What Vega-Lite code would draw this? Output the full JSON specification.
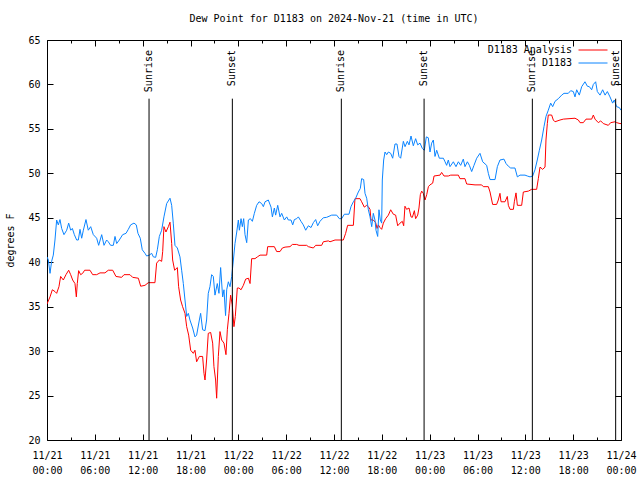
{
  "$schema": "https://vega.github.io/schema/vega-lite/v6.json",
  "width": 574,
  "height": 400,
  "autosize": {"type": "none"},
  "padding": {"left": 47, "top": 40, "right": 19, "bottom": 40},
  "background": "white",
  "title": {"text": "Dew Point for D1183 on 2024-Nov-21 (time in UTC)", "font": "DejaVu Sans Mono", "fontSize": 10, "fontWeight": "normal", "color": "black", "anchor": "middle", "offset": 11},
  "config": {"view": {"stroke": null}, "axis": {"labelFont": "DejaVu Sans Mono", "labelFontSize": 10, "labelColor": "black", "titleFont": "DejaVu Sans Mono", "titleFontSize": 10, "titleFontWeight": "normal", "titleColor": "black", "tickColor": "black", "domainColor": "black", "grid": false}},
  "datasets": {
    "obs": [
      {"series": "D1183 Analysis", "hour": 0, "dewpoint": 35.3},
      {"series": "D1183 Analysis", "hour": 0.38, "dewpoint": 36.1},
      {"series": "D1183 Analysis", "hour": 0.67, "dewpoint": 36.9},
      {"series": "D1183 Analysis", "hour": 1.0, "dewpoint": 36.7},
      {"series": "D1183 Analysis", "hour": 1.21, "dewpoint": 36.5},
      {"series": "D1183 Analysis", "hour": 1.5, "dewpoint": 37.25},
      {"series": "D1183 Analysis", "hour": 1.71, "dewpoint": 38.4},
      {"series": "D1183 Analysis", "hour": 2.05, "dewpoint": 38.0},
      {"series": "D1183 Analysis", "hour": 2.38, "dewpoint": 38.6},
      {"series": "D1183 Analysis", "hour": 2.72, "dewpoint": 39.1},
      {"series": "D1183 Analysis", "hour": 2.97, "dewpoint": 38.6},
      {"series": "D1183 Analysis", "hour": 3.22, "dewpoint": 38.0},
      {"series": "D1183 Analysis", "hour": 3.51, "dewpoint": 37.6},
      {"series": "D1183 Analysis", "hour": 3.68, "dewpoint": 36.1},
      {"series": "D1183 Analysis", "hour": 3.8, "dewpoint": 37.6},
      {"series": "D1183 Analysis", "hour": 3.97, "dewpoint": 39.05},
      {"series": "D1183 Analysis", "hour": 4.22, "dewpoint": 38.6},
      {"series": "D1183 Analysis", "hour": 4.47, "dewpoint": 38.75},
      {"series": "D1183 Analysis", "hour": 4.72, "dewpoint": 39.1},
      {"series": "D1183 Analysis", "hour": 5.39, "dewpoint": 39.1},
      {"series": "D1183 Analysis", "hour": 5.73, "dewpoint": 38.6},
      {"series": "D1183 Analysis", "hour": 6.23, "dewpoint": 38.6},
      {"series": "D1183 Analysis", "hour": 6.65, "dewpoint": 38.8},
      {"series": "D1183 Analysis", "hour": 7.27, "dewpoint": 38.8},
      {"series": "D1183 Analysis", "hour": 7.69, "dewpoint": 39.1},
      {"series": "D1183 Analysis", "hour": 8.24, "dewpoint": 39.1},
      {"series": "D1183 Analysis", "hour": 8.65, "dewpoint": 38.4},
      {"series": "D1183 Analysis", "hour": 9.36, "dewpoint": 38.3},
      {"series": "D1183 Analysis", "hour": 9.66, "dewpoint": 38.6},
      {"series": "D1183 Analysis", "hour": 10.41, "dewpoint": 38.6},
      {"series": "D1183 Analysis", "hour": 10.74, "dewpoint": 38.3},
      {"series": "D1183 Analysis", "hour": 11.46, "dewpoint": 38.2},
      {"series": "D1183 Analysis", "hour": 11.75, "dewpoint": 37.3},
      {"series": "D1183 Analysis", "hour": 12.29, "dewpoint": 37.4},
      {"series": "D1183 Analysis", "hour": 12.71, "dewpoint": 37.7},
      {"series": "D1183 Analysis", "hour": 13.54, "dewpoint": 37.7},
      {"series": "D1183 Analysis", "hour": 13.75, "dewpoint": 39.9},
      {"series": "D1183 Analysis", "hour": 14.09, "dewpoint": 40.25},
      {"series": "D1183 Analysis", "hour": 14.38, "dewpoint": 40.1},
      {"series": "D1183 Analysis", "hour": 14.51, "dewpoint": 41.2},
      {"series": "D1183 Analysis", "hour": 14.67, "dewpoint": 44.0},
      {"series": "D1183 Analysis", "hour": 14.92, "dewpoint": 43.4},
      {"series": "D1183 Analysis", "hour": 15.22, "dewpoint": 44.0},
      {"series": "D1183 Analysis", "hour": 15.43, "dewpoint": 44.5},
      {"series": "D1183 Analysis", "hour": 15.64, "dewpoint": 42.1},
      {"series": "D1183 Analysis", "hour": 15.76, "dewpoint": 40.25},
      {"series": "D1183 Analysis", "hour": 16.01, "dewpoint": 39.1},
      {"series": "D1183 Analysis", "hour": 16.35, "dewpoint": 39.4},
      {"series": "D1183 Analysis", "hour": 16.51, "dewpoint": 37.25},
      {"series": "D1183 Analysis", "hour": 16.76, "dewpoint": 35.75},
      {"series": "D1183 Analysis", "hour": 17.01, "dewpoint": 35.0},
      {"series": "D1183 Analysis", "hour": 17.31, "dewpoint": 34.25},
      {"series": "D1183 Analysis", "hour": 17.52, "dewpoint": 32.75},
      {"series": "D1183 Analysis", "hour": 17.77, "dewpoint": 31.8},
      {"series": "D1183 Analysis", "hour": 18.02, "dewpoint": 30.1},
      {"series": "D1183 Analysis", "hour": 18.35, "dewpoint": 29.75},
      {"series": "D1183 Analysis", "hour": 18.56, "dewpoint": 30.1},
      {"series": "D1183 Analysis", "hour": 18.77, "dewpoint": 28.8},
      {"series": "D1183 Analysis", "hour": 19.11, "dewpoint": 29.4},
      {"series": "D1183 Analysis", "hour": 19.52, "dewpoint": 29.4},
      {"series": "D1183 Analysis", "hour": 19.69, "dewpoint": 27.5},
      {"series": "D1183 Analysis", "hour": 19.82, "dewpoint": 26.75},
      {"series": "D1183 Analysis", "hour": 20.02, "dewpoint": 29.0},
      {"series": "D1183 Analysis", "hour": 20.23, "dewpoint": 32.0},
      {"series": "D1183 Analysis", "hour": 20.53, "dewpoint": 32.1},
      {"series": "D1183 Analysis", "hour": 20.78, "dewpoint": 30.9},
      {"series": "D1183 Analysis", "hour": 20.94, "dewpoint": 28.25},
      {"series": "D1183 Analysis", "hour": 21.15, "dewpoint": 26.75},
      {"series": "D1183 Analysis", "hour": 21.28, "dewpoint": 24.7},
      {"series": "D1183 Analysis", "hour": 21.49, "dewpoint": 29.4},
      {"series": "D1183 Analysis", "hour": 21.7, "dewpoint": 32.2},
      {"series": "D1183 Analysis", "hour": 21.91, "dewpoint": 31.25},
      {"series": "D1183 Analysis", "hour": 22.2, "dewpoint": 30.9},
      {"series": "D1183 Analysis", "hour": 22.45, "dewpoint": 29.6},
      {"series": "D1183 Analysis", "hour": 22.62, "dewpoint": 32.4},
      {"series": "D1183 Analysis", "hour": 22.83, "dewpoint": 34.25},
      {"series": "D1183 Analysis", "hour": 23.03, "dewpoint": 36.3},
      {"series": "D1183 Analysis", "hour": 23.24, "dewpoint": 35.2},
      {"series": "D1183 Analysis", "hour": 23.45, "dewpoint": 32.75},
      {"series": "D1183 Analysis", "hour": 23.62, "dewpoint": 33.9},
      {"series": "D1183 Analysis", "hour": 23.87, "dewpoint": 37.1},
      {"series": "D1183 Analysis", "hour": 24.08, "dewpoint": 37.1},
      {"series": "D1183 Analysis", "hour": 24.34, "dewpoint": 36.9},
      {"series": "D1183 Analysis", "hour": 24.63, "dewpoint": 37.4},
      {"series": "D1183 Analysis", "hour": 24.92, "dewpoint": 38.1},
      {"series": "D1183 Analysis", "hour": 25.26, "dewpoint": 38.2},
      {"series": "D1183 Analysis", "hour": 25.47, "dewpoint": 37.6},
      {"series": "D1183 Analysis", "hour": 25.67, "dewpoint": 40.4},
      {"series": "D1183 Analysis", "hour": 26.09, "dewpoint": 40.4},
      {"series": "D1183 Analysis", "hour": 26.39, "dewpoint": 40.6},
      {"series": "D1183 Analysis", "hour": 26.72, "dewpoint": 40.8},
      {"series": "D1183 Analysis", "hour": 27.56, "dewpoint": 40.8},
      {"series": "D1183 Analysis", "hour": 27.68, "dewpoint": 41.75},
      {"series": "D1183 Analysis", "hour": 28.52, "dewpoint": 41.75},
      {"series": "D1183 Analysis", "hour": 28.81, "dewpoint": 41.2},
      {"series": "D1183 Analysis", "hour": 29.23, "dewpoint": 41.2},
      {"series": "D1183 Analysis", "hour": 29.52, "dewpoint": 41.6},
      {"series": "D1183 Analysis", "hour": 29.86, "dewpoint": 41.7},
      {"series": "D1183 Analysis", "hour": 30.48, "dewpoint": 41.75},
      {"series": "D1183 Analysis", "hour": 30.78, "dewpoint": 42.0},
      {"series": "D1183 Analysis", "hour": 31.32, "dewpoint": 42.0},
      {"series": "D1183 Analysis", "hour": 31.61, "dewpoint": 41.9},
      {"series": "D1183 Analysis", "hour": 32.57, "dewpoint": 41.9},
      {"series": "D1183 Analysis", "hour": 32.78, "dewpoint": 41.75},
      {"series": "D1183 Analysis", "hour": 33.41, "dewpoint": 41.6},
      {"series": "D1183 Analysis", "hour": 33.7, "dewpoint": 41.9},
      {"series": "D1183 Analysis", "hour": 34.45, "dewpoint": 41.9},
      {"series": "D1183 Analysis", "hour": 34.66, "dewpoint": 42.3},
      {"series": "D1183 Analysis", "hour": 35.29, "dewpoint": 42.4},
      {"series": "D1183 Analysis", "hour": 35.5, "dewpoint": 42.3},
      {"series": "D1183 Analysis", "hour": 36.13, "dewpoint": 42.5},
      {"series": "D1183 Analysis", "hour": 37.17, "dewpoint": 42.5},
      {"series": "D1183 Analysis", "hour": 37.46, "dewpoint": 43.25},
      {"series": "D1183 Analysis", "hour": 37.71, "dewpoint": 44.15},
      {"series": "D1183 Analysis", "hour": 38.43, "dewpoint": 44.15},
      {"series": "D1183 Analysis", "hour": 38.63, "dewpoint": 47.15},
      {"series": "D1183 Analysis", "hour": 39.26, "dewpoint": 47.15},
      {"series": "D1183 Analysis", "hour": 39.47, "dewpoint": 46.8},
      {"series": "D1183 Analysis", "hour": 39.8, "dewpoint": 46.2},
      {"series": "D1183 Analysis", "hour": 40.1, "dewpoint": 46.4},
      {"series": "D1183 Analysis", "hour": 40.3, "dewpoint": 46.25},
      {"series": "D1183 Analysis", "hour": 40.52, "dewpoint": 45.95},
      {"series": "D1183 Analysis", "hour": 40.64, "dewpoint": 44.75},
      {"series": "D1183 Analysis", "hour": 40.93, "dewpoint": 44.75},
      {"series": "D1183 Analysis", "hour": 41.23, "dewpoint": 44.45},
      {"series": "D1183 Analysis", "hour": 41.4, "dewpoint": 43.8},
      {"series": "D1183 Analysis", "hour": 41.56, "dewpoint": 44.2},
      {"series": "D1183 Analysis", "hour": 41.77, "dewpoint": 43.9},
      {"series": "D1183 Analysis", "hour": 41.98, "dewpoint": 43.7},
      {"series": "D1183 Analysis", "hour": 42.19, "dewpoint": 44.4},
      {"series": "D1183 Analysis", "hour": 42.48, "dewpoint": 44.9},
      {"series": "D1183 Analysis", "hour": 42.82, "dewpoint": 45.3},
      {"series": "D1183 Analysis", "hour": 43.11, "dewpoint": 45.9},
      {"series": "D1183 Analysis", "hour": 43.44, "dewpoint": 45.4},
      {"series": "D1183 Analysis", "hour": 43.73, "dewpoint": 45.3},
      {"series": "D1183 Analysis", "hour": 43.99, "dewpoint": 44.1},
      {"series": "D1183 Analysis", "hour": 44.28, "dewpoint": 44.4},
      {"series": "D1183 Analysis", "hour": 44.57, "dewpoint": 44.6},
      {"series": "D1183 Analysis", "hour": 44.74, "dewpoint": 44.1},
      {"series": "D1183 Analysis", "hour": 44.9, "dewpoint": 46.3},
      {"series": "D1183 Analysis", "hour": 45.11, "dewpoint": 45.95},
      {"series": "D1183 Analysis", "hour": 45.41, "dewpoint": 46.1},
      {"series": "D1183 Analysis", "hour": 45.66, "dewpoint": 45.1},
      {"series": "D1183 Analysis", "hour": 45.83, "dewpoint": 45.05},
      {"series": "D1183 Analysis", "hour": 46.08, "dewpoint": 45.8},
      {"series": "D1183 Analysis", "hour": 46.24, "dewpoint": 44.9},
      {"series": "D1183 Analysis", "hour": 46.5, "dewpoint": 45.3},
      {"series": "D1183 Analysis", "hour": 46.66, "dewpoint": 46.1},
      {"series": "D1183 Analysis", "hour": 46.83, "dewpoint": 47.6},
      {"series": "D1183 Analysis", "hour": 47.0, "dewpoint": 48.0},
      {"series": "D1183 Analysis", "hour": 47.2, "dewpoint": 47.75},
      {"series": "D1183 Analysis", "hour": 47.42, "dewpoint": 47.0},
      {"series": "D1183 Analysis", "hour": 47.63, "dewpoint": 47.6},
      {"series": "D1183 Analysis", "hour": 47.84, "dewpoint": 48.5},
      {"series": "D1183 Analysis", "hour": 48.04, "dewpoint": 48.7},
      {"series": "D1183 Analysis", "hour": 48.38, "dewpoint": 48.9},
      {"series": "D1183 Analysis", "hour": 48.55, "dewpoint": 49.7},
      {"series": "D1183 Analysis", "hour": 49.3, "dewpoint": 49.8},
      {"series": "D1183 Analysis", "hour": 49.5, "dewpoint": 50.1},
      {"series": "D1183 Analysis", "hour": 49.8, "dewpoint": 49.7},
      {"series": "D1183 Analysis", "hour": 50.34, "dewpoint": 49.7},
      {"series": "D1183 Analysis", "hour": 50.64, "dewpoint": 49.8},
      {"series": "D1183 Analysis", "hour": 51.6, "dewpoint": 49.8},
      {"series": "D1183 Analysis", "hour": 51.8, "dewpoint": 49.4},
      {"series": "D1183 Analysis", "hour": 52.43, "dewpoint": 49.4},
      {"series": "D1183 Analysis", "hour": 52.64, "dewpoint": 48.8},
      {"series": "D1183 Analysis", "hour": 53.69, "dewpoint": 48.7},
      {"series": "D1183 Analysis", "hour": 54.52, "dewpoint": 48.7},
      {"series": "D1183 Analysis", "hour": 54.73, "dewpoint": 48.5},
      {"series": "D1183 Analysis", "hour": 55.36, "dewpoint": 48.5},
      {"series": "D1183 Analysis", "hour": 55.57, "dewpoint": 47.9},
      {"series": "D1183 Analysis", "hour": 55.78, "dewpoint": 47.0},
      {"series": "D1183 Analysis", "hour": 55.9, "dewpoint": 46.5},
      {"series": "D1183 Analysis", "hour": 56.4, "dewpoint": 46.5},
      {"series": "D1183 Analysis", "hour": 56.61, "dewpoint": 47.0},
      {"series": "D1183 Analysis", "hour": 56.82, "dewpoint": 47.75},
      {"series": "D1183 Analysis", "hour": 56.95, "dewpoint": 46.8},
      {"series": "D1183 Analysis", "hour": 57.45, "dewpoint": 46.8},
      {"series": "D1183 Analysis", "hour": 57.74, "dewpoint": 47.4},
      {"series": "D1183 Analysis", "hour": 57.87, "dewpoint": 46.4},
      {"series": "D1183 Analysis", "hour": 58.08, "dewpoint": 45.95},
      {"series": "D1183 Analysis", "hour": 58.5, "dewpoint": 45.95},
      {"series": "D1183 Analysis", "hour": 58.62, "dewpoint": 46.8},
      {"series": "D1183 Analysis", "hour": 58.83, "dewpoint": 47.8},
      {"series": "D1183 Analysis", "hour": 59.0, "dewpoint": 46.4},
      {"series": "D1183 Analysis", "hour": 59.54, "dewpoint": 46.4},
      {"series": "D1183 Analysis", "hour": 59.75, "dewpoint": 47.9},
      {"series": "D1183 Analysis", "hour": 60.38, "dewpoint": 48.0},
      {"series": "D1183 Analysis", "hour": 60.79, "dewpoint": 48.2},
      {"series": "D1183 Analysis", "hour": 61.42, "dewpoint": 48.2},
      {"series": "D1183 Analysis", "hour": 61.63, "dewpoint": 49.4},
      {"series": "D1183 Analysis", "hour": 61.84, "dewpoint": 50.7},
      {"series": "D1183 Analysis", "hour": 62.17, "dewpoint": 50.45},
      {"series": "D1183 Analysis", "hour": 62.47, "dewpoint": 50.7},
      {"series": "D1183 Analysis", "hour": 62.59, "dewpoint": 53.75},
      {"series": "D1183 Analysis", "hour": 62.76, "dewpoint": 55.6},
      {"series": "D1183 Analysis", "hour": 62.88, "dewpoint": 56.56},
      {"series": "D1183 Analysis", "hour": 63.3, "dewpoint": 56.56},
      {"series": "D1183 Analysis", "hour": 63.51, "dewpoint": 56.0},
      {"series": "D1183 Analysis", "hour": 63.72, "dewpoint": 55.8},
      {"series": "D1183 Analysis", "hour": 64.35, "dewpoint": 56.0},
      {"series": "D1183 Analysis", "hour": 64.77, "dewpoint": 56.1},
      {"series": "D1183 Analysis", "hour": 66.23, "dewpoint": 56.2},
      {"series": "D1183 Analysis", "hour": 66.65, "dewpoint": 56.0},
      {"series": "D1183 Analysis", "hour": 66.86, "dewpoint": 55.7},
      {"series": "D1183 Analysis", "hour": 67.27, "dewpoint": 55.7},
      {"series": "D1183 Analysis", "hour": 67.61, "dewpoint": 56.1},
      {"series": "D1183 Analysis", "hour": 68.32, "dewpoint": 56.1},
      {"series": "D1183 Analysis", "hour": 68.53, "dewpoint": 56.56},
      {"series": "D1183 Analysis", "hour": 68.74, "dewpoint": 56.1},
      {"series": "D1183 Analysis", "hour": 69.16, "dewpoint": 55.7},
      {"series": "D1183 Analysis", "hour": 69.45, "dewpoint": 55.9},
      {"series": "D1183 Analysis", "hour": 69.78, "dewpoint": 55.6},
      {"series": "D1183 Analysis", "hour": 70.41, "dewpoint": 55.4},
      {"series": "D1183 Analysis", "hour": 70.7, "dewpoint": 55.7},
      {"series": "D1183 Analysis", "hour": 71.25, "dewpoint": 55.8},
      {"series": "D1183 Analysis", "hour": 71.46, "dewpoint": 55.7},
      {"series": "D1183 Analysis", "hour": 71.87, "dewpoint": 55.6},
      {"series": "D1183 Analysis", "hour": 72.0, "dewpoint": 55.6},
      {"series": "D1183", "hour": 0.0, "dewpoint": 40.6},
      {"series": "D1183", "hour": 0.17, "dewpoint": 40.25},
      {"series": "D1183", "hour": 0.38, "dewpoint": 38.75},
      {"series": "D1183", "hour": 0.58, "dewpoint": 40.1},
      {"series": "D1183", "hour": 0.79, "dewpoint": 40.8},
      {"series": "D1183", "hour": 1.0, "dewpoint": 42.5},
      {"series": "D1183", "hour": 1.21, "dewpoint": 44.75},
      {"series": "D1183", "hour": 1.42, "dewpoint": 44.2},
      {"series": "D1183", "hour": 1.63, "dewpoint": 44.8},
      {"series": "D1183", "hour": 1.84, "dewpoint": 43.8},
      {"series": "D1183", "hour": 2.13, "dewpoint": 43.1},
      {"series": "D1183", "hour": 2.47, "dewpoint": 43.6},
      {"series": "D1183", "hour": 2.72, "dewpoint": 44.4},
      {"series": "D1183", "hour": 2.97, "dewpoint": 43.6},
      {"series": "D1183", "hour": 3.18, "dewpoint": 43.8},
      {"series": "D1183", "hour": 3.43, "dewpoint": 43.1},
      {"series": "D1183", "hour": 3.72, "dewpoint": 42.5},
      {"series": "D1183", "hour": 3.93, "dewpoint": 42.5},
      {"series": "D1183", "hour": 4.14, "dewpoint": 43.7},
      {"series": "D1183", "hour": 4.35, "dewpoint": 42.7},
      {"series": "D1183", "hour": 4.56, "dewpoint": 43.6},
      {"series": "D1183", "hour": 4.89, "dewpoint": 44.8},
      {"series": "D1183", "hour": 5.18, "dewpoint": 43.6},
      {"series": "D1183", "hour": 5.48, "dewpoint": 44.0},
      {"series": "D1183", "hour": 5.81, "dewpoint": 43.1},
      {"series": "D1183", "hour": 6.23, "dewpoint": 42.7},
      {"series": "D1183", "hour": 6.48, "dewpoint": 41.9},
      {"series": "D1183", "hour": 6.86, "dewpoint": 43.1},
      {"series": "D1183", "hour": 7.15, "dewpoint": 41.9},
      {"series": "D1183", "hour": 7.48, "dewpoint": 42.5},
      {"series": "D1183", "hour": 7.69, "dewpoint": 42.3},
      {"series": "D1183", "hour": 7.98, "dewpoint": 41.9},
      {"series": "D1183", "hour": 8.32, "dewpoint": 41.9},
      {"series": "D1183", "hour": 8.53, "dewpoint": 42.9},
      {"series": "D1183", "hour": 8.74, "dewpoint": 42.1},
      {"series": "D1183", "hour": 9.07, "dewpoint": 42.5},
      {"series": "D1183", "hour": 9.49, "dewpoint": 43.1},
      {"series": "D1183", "hour": 9.91, "dewpoint": 43.25},
      {"series": "D1183", "hour": 10.2, "dewpoint": 43.7},
      {"series": "D1183", "hour": 10.49, "dewpoint": 44.2},
      {"series": "D1183", "hour": 10.91, "dewpoint": 44.4},
      {"series": "D1183", "hour": 11.2, "dewpoint": 44.2},
      {"series": "D1183", "hour": 11.41, "dewpoint": 43.25},
      {"series": "D1183", "hour": 11.7, "dewpoint": 42.7},
      {"series": "D1183", "hour": 11.95, "dewpoint": 41.4},
      {"series": "D1183", "hour": 12.29, "dewpoint": 41.0},
      {"series": "D1183", "hour": 12.5, "dewpoint": 40.7},
      {"series": "D1183", "hour": 12.83, "dewpoint": 40.8},
      {"series": "D1183", "hour": 13.13, "dewpoint": 41.0},
      {"series": "D1183", "hour": 13.34, "dewpoint": 40.6},
      {"series": "D1183", "hour": 13.63, "dewpoint": 40.55},
      {"series": "D1183", "hour": 13.84, "dewpoint": 41.4},
      {"series": "D1183", "hour": 14.09, "dewpoint": 42.9},
      {"series": "D1183", "hour": 14.38, "dewpoint": 43.6},
      {"series": "D1183", "hour": 14.67, "dewpoint": 45.1},
      {"series": "D1183", "hour": 15.01, "dewpoint": 46.6},
      {"series": "D1183", "hour": 15.43, "dewpoint": 47.2},
      {"series": "D1183", "hour": 15.64, "dewpoint": 46.4},
      {"series": "D1183", "hour": 15.84, "dewpoint": 44.4},
      {"series": "D1183", "hour": 16.05, "dewpoint": 41.9},
      {"series": "D1183", "hour": 16.35, "dewpoint": 41.6},
      {"series": "D1183", "hour": 16.68, "dewpoint": 40.6},
      {"series": "D1183", "hour": 16.89, "dewpoint": 39.1},
      {"series": "D1183", "hour": 17.1, "dewpoint": 37.6},
      {"series": "D1183", "hour": 17.31, "dewpoint": 35.75},
      {"series": "D1183", "hour": 17.52, "dewpoint": 33.9},
      {"series": "D1183", "hour": 17.73, "dewpoint": 34.25},
      {"series": "D1183", "hour": 17.93, "dewpoint": 33.5},
      {"series": "D1183", "hour": 18.27, "dewpoint": 32.6},
      {"series": "D1183", "hour": 18.56, "dewpoint": 31.6},
      {"series": "D1183", "hour": 18.77, "dewpoint": 31.8},
      {"series": "D1183", "hour": 19.11, "dewpoint": 33.5},
      {"series": "D1183", "hour": 19.27, "dewpoint": 34.25},
      {"series": "D1183", "hour": 19.52, "dewpoint": 32.4},
      {"series": "D1183", "hour": 19.82, "dewpoint": 32.3},
      {"series": "D1183", "hour": 20.02, "dewpoint": 33.5},
      {"series": "D1183", "hour": 20.23, "dewpoint": 36.5},
      {"series": "D1183", "hour": 20.44, "dewpoint": 37.25},
      {"series": "D1183", "hour": 20.65, "dewpoint": 38.6},
      {"series": "D1183", "hour": 20.86, "dewpoint": 38.4},
      {"series": "D1183", "hour": 21.07, "dewpoint": 36.3},
      {"series": "D1183", "hour": 21.36, "dewpoint": 37.6},
      {"series": "D1183", "hour": 21.57, "dewpoint": 36.5},
      {"series": "D1183", "hour": 21.78, "dewpoint": 39.4},
      {"series": "D1183", "hour": 22.03, "dewpoint": 36.1},
      {"series": "D1183", "hour": 22.2, "dewpoint": 36.9},
      {"series": "D1183", "hour": 22.4, "dewpoint": 34.0},
      {"series": "D1183", "hour": 22.54, "dewpoint": 36.9},
      {"series": "D1183", "hour": 22.75, "dewpoint": 37.8},
      {"series": "D1183", "hour": 22.96, "dewpoint": 37.25},
      {"series": "D1183", "hour": 23.17, "dewpoint": 38.4},
      {"series": "D1183", "hour": 23.38, "dewpoint": 40.25},
      {"series": "D1183", "hour": 23.58, "dewpoint": 42.1},
      {"series": "D1183", "hour": 23.8, "dewpoint": 43.4},
      {"series": "D1183", "hour": 24.0, "dewpoint": 44.75},
      {"series": "D1183", "hour": 24.13, "dewpoint": 43.6},
      {"series": "D1183", "hour": 24.34, "dewpoint": 44.9},
      {"series": "D1183", "hour": 24.5, "dewpoint": 44.0},
      {"series": "D1183", "hour": 24.67, "dewpoint": 44.9},
      {"series": "D1183", "hour": 24.84, "dewpoint": 43.1},
      {"series": "D1183", "hour": 25.05, "dewpoint": 42.2},
      {"series": "D1183", "hour": 25.26, "dewpoint": 44.75},
      {"series": "D1183", "hour": 25.51, "dewpoint": 44.9},
      {"series": "D1183", "hour": 25.76, "dewpoint": 44.6},
      {"series": "D1183", "hour": 26.01, "dewpoint": 45.5},
      {"series": "D1183", "hour": 26.3, "dewpoint": 46.4},
      {"series": "D1183", "hour": 26.6, "dewpoint": 46.8},
      {"series": "D1183", "hour": 26.93, "dewpoint": 46.6},
      {"series": "D1183", "hour": 27.14, "dewpoint": 46.25},
      {"series": "D1183", "hour": 27.35, "dewpoint": 46.8},
      {"series": "D1183", "hour": 27.76, "dewpoint": 47.0},
      {"series": "D1183", "hour": 28.1, "dewpoint": 46.2},
      {"series": "D1183", "hour": 28.27, "dewpoint": 45.1},
      {"series": "D1183", "hour": 28.52, "dewpoint": 46.1},
      {"series": "D1183", "hour": 28.68, "dewpoint": 45.3},
      {"series": "D1183", "hour": 28.94, "dewpoint": 46.4},
      {"series": "D1183", "hour": 29.23, "dewpoint": 45.1},
      {"series": "D1183", "hour": 29.44, "dewpoint": 45.5},
      {"series": "D1183", "hour": 29.77, "dewpoint": 44.75},
      {"series": "D1183", "hour": 30.07, "dewpoint": 45.1},
      {"series": "D1183", "hour": 30.27, "dewpoint": 44.75},
      {"series": "D1183", "hour": 30.61, "dewpoint": 44.75},
      {"series": "D1183", "hour": 30.82, "dewpoint": 44.2},
      {"series": "D1183", "hour": 31.03, "dewpoint": 44.8},
      {"series": "D1183", "hour": 31.32, "dewpoint": 44.9},
      {"series": "D1183", "hour": 31.53, "dewpoint": 45.1},
      {"series": "D1183", "hour": 31.86, "dewpoint": 44.6},
      {"series": "D1183", "hour": 32.15, "dewpoint": 44.2},
      {"series": "D1183", "hour": 32.45, "dewpoint": 43.6},
      {"series": "D1183", "hour": 32.78, "dewpoint": 44.1},
      {"series": "D1183", "hour": 33.12, "dewpoint": 43.9},
      {"series": "D1183", "hour": 33.41, "dewpoint": 44.45},
      {"series": "D1183", "hour": 33.7, "dewpoint": 44.8},
      {"series": "D1183", "hour": 33.95, "dewpoint": 44.1},
      {"series": "D1183", "hour": 34.24, "dewpoint": 44.6},
      {"series": "D1183", "hour": 34.66, "dewpoint": 45.0},
      {"series": "D1183", "hour": 35.08, "dewpoint": 45.05},
      {"series": "D1183", "hour": 35.71, "dewpoint": 45.3},
      {"series": "D1183", "hour": 36.33, "dewpoint": 45.3},
      {"series": "D1183", "hour": 36.67, "dewpoint": 44.9},
      {"series": "D1183", "hour": 36.96, "dewpoint": 44.9},
      {"series": "D1183", "hour": 37.3, "dewpoint": 45.4},
      {"series": "D1183", "hour": 37.88, "dewpoint": 45.4},
      {"series": "D1183", "hour": 38.13, "dewpoint": 46.25},
      {"series": "D1183", "hour": 38.43, "dewpoint": 46.8},
      {"series": "D1183", "hour": 38.72, "dewpoint": 47.2},
      {"series": "D1183", "hour": 39.05, "dewpoint": 47.9},
      {"series": "D1183", "hour": 39.3, "dewpoint": 48.3},
      {"series": "D1183", "hour": 39.47, "dewpoint": 49.4},
      {"series": "D1183", "hour": 39.72, "dewpoint": 49.3},
      {"series": "D1183", "hour": 39.89, "dewpoint": 47.75},
      {"series": "D1183", "hour": 40.1, "dewpoint": 47.2},
      {"series": "D1183", "hour": 40.31, "dewpoint": 45.9},
      {"series": "D1183", "hour": 40.52, "dewpoint": 45.1},
      {"series": "D1183", "hour": 40.73, "dewpoint": 44.0},
      {"series": "D1183", "hour": 40.93, "dewpoint": 45.5},
      {"series": "D1183", "hour": 41.14, "dewpoint": 44.75},
      {"series": "D1183", "hour": 41.27, "dewpoint": 43.6},
      {"series": "D1183", "hour": 41.48, "dewpoint": 42.9},
      {"series": "D1183", "hour": 41.64, "dewpoint": 45.9},
      {"series": "D1183", "hour": 41.81, "dewpoint": 44.75},
      {"series": "D1183", "hour": 41.98, "dewpoint": 44.4},
      {"series": "D1183", "hour": 42.06, "dewpoint": 49.25},
      {"series": "D1183", "hour": 42.23, "dewpoint": 51.5},
      {"series": "D1183", "hour": 42.4, "dewpoint": 52.4},
      {"series": "D1183", "hour": 42.61, "dewpoint": 52.1},
      {"series": "D1183", "hour": 42.82, "dewpoint": 52.4},
      {"series": "D1183", "hour": 43.11, "dewpoint": 52.25},
      {"series": "D1183", "hour": 43.36, "dewpoint": 51.7},
      {"series": "D1183", "hour": 43.65, "dewpoint": 53.3},
      {"series": "D1183", "hour": 43.9, "dewpoint": 53.3},
      {"series": "D1183", "hour": 44.15, "dewpoint": 51.9},
      {"series": "D1183", "hour": 44.36, "dewpoint": 51.7},
      {"series": "D1183", "hour": 44.7, "dewpoint": 53.6},
      {"series": "D1183", "hour": 44.91, "dewpoint": 53.0},
      {"series": "D1183", "hour": 45.2, "dewpoint": 53.6},
      {"series": "D1183", "hour": 45.41, "dewpoint": 53.2},
      {"series": "D1183", "hour": 45.66, "dewpoint": 54.2},
      {"series": "D1183", "hour": 45.95, "dewpoint": 53.1},
      {"series": "D1183", "hour": 46.24, "dewpoint": 53.9},
      {"series": "D1183", "hour": 46.5, "dewpoint": 53.2},
      {"series": "D1183", "hour": 46.79, "dewpoint": 53.4},
      {"series": "D1183", "hour": 47.08, "dewpoint": 52.8},
      {"series": "D1183", "hour": 47.33, "dewpoint": 52.6},
      {"series": "D1183", "hour": 47.58, "dewpoint": 54.1},
      {"series": "D1183", "hour": 47.83, "dewpoint": 54.0},
      {"series": "D1183", "hour": 48.04, "dewpoint": 52.4},
      {"series": "D1183", "hour": 48.25, "dewpoint": 53.4},
      {"series": "D1183", "hour": 48.46, "dewpoint": 53.75},
      {"series": "D1183", "hour": 48.67, "dewpoint": 51.9},
      {"series": "D1183", "hour": 48.88, "dewpoint": 52.6},
      {"series": "D1183", "hour": 49.21, "dewpoint": 51.7},
      {"series": "D1183", "hour": 49.72, "dewpoint": 51.7},
      {"series": "D1183", "hour": 49.93, "dewpoint": 51.3},
      {"series": "D1183", "hour": 50.13, "dewpoint": 50.9},
      {"series": "D1183", "hour": 50.34, "dewpoint": 51.5},
      {"series": "D1183", "hour": 50.55, "dewpoint": 50.75},
      {"series": "D1183", "hour": 50.97, "dewpoint": 51.3},
      {"series": "D1183", "hour": 51.3, "dewpoint": 50.75},
      {"series": "D1183", "hour": 51.6, "dewpoint": 51.3},
      {"series": "D1183", "hour": 51.89, "dewpoint": 50.9},
      {"series": "D1183", "hour": 52.22, "dewpoint": 51.6},
      {"series": "D1183", "hour": 52.43, "dewpoint": 50.75},
      {"series": "D1183", "hour": 52.73, "dewpoint": 51.3},
      {"series": "D1183", "hour": 52.98, "dewpoint": 50.9},
      {"series": "D1183", "hour": 53.27, "dewpoint": 50.2},
      {"series": "D1183", "hour": 53.56, "dewpoint": 50.9},
      {"series": "D1183", "hour": 53.9, "dewpoint": 51.7},
      {"series": "D1183", "hour": 54.31, "dewpoint": 52.25},
      {"series": "D1183", "hour": 54.65, "dewpoint": 51.3},
      {"series": "D1183", "hour": 55.15, "dewpoint": 50.9},
      {"series": "D1183", "hour": 55.36, "dewpoint": 50.0},
      {"series": "D1183", "hour": 55.57, "dewpoint": 49.3},
      {"series": "D1183", "hour": 56.2, "dewpoint": 49.3},
      {"series": "D1183", "hour": 56.49, "dewpoint": 50.75},
      {"series": "D1183", "hour": 56.82, "dewpoint": 51.5},
      {"series": "D1183", "hour": 57.32, "dewpoint": 51.6},
      {"series": "D1183", "hour": 57.58, "dewpoint": 51.1},
      {"series": "D1183", "hour": 57.87, "dewpoint": 50.8},
      {"series": "D1183", "hour": 58.16, "dewpoint": 50.6},
      {"series": "D1183", "hour": 58.7, "dewpoint": 50.6},
      {"series": "D1183", "hour": 59.0, "dewpoint": 49.6},
      {"series": "D1183", "hour": 59.33, "dewpoint": 49.8},
      {"series": "D1183", "hour": 59.96, "dewpoint": 49.8},
      {"series": "D1183", "hour": 60.25, "dewpoint": 49.7},
      {"series": "D1183", "hour": 60.59, "dewpoint": 49.6},
      {"series": "D1183", "hour": 60.92, "dewpoint": 49.7},
      {"series": "D1183", "hour": 61.21, "dewpoint": 50.4},
      {"series": "D1183", "hour": 61.5, "dewpoint": 51.5},
      {"series": "D1183", "hour": 61.76, "dewpoint": 52.6},
      {"series": "D1183", "hour": 62.05, "dewpoint": 53.75},
      {"series": "D1183", "hour": 62.34, "dewpoint": 55.25},
      {"series": "D1183", "hour": 62.59, "dewpoint": 56.4},
      {"series": "D1183", "hour": 62.88, "dewpoint": 57.1},
      {"series": "D1183", "hour": 63.18, "dewpoint": 57.9},
      {"series": "D1183", "hour": 63.43, "dewpoint": 57.5},
      {"series": "D1183", "hour": 63.72, "dewpoint": 58.1},
      {"series": "D1183", "hour": 64.14, "dewpoint": 58.4},
      {"series": "D1183", "hour": 64.56, "dewpoint": 58.8},
      {"series": "D1183", "hour": 64.85, "dewpoint": 59.0},
      {"series": "D1183", "hour": 65.39, "dewpoint": 59.0},
      {"series": "D1183", "hour": 65.69, "dewpoint": 59.3},
      {"series": "D1183", "hour": 66.02, "dewpoint": 59.2},
      {"series": "D1183", "hour": 66.23, "dewpoint": 58.6},
      {"series": "D1183", "hour": 66.44, "dewpoint": 59.4},
      {"series": "D1183", "hour": 66.77, "dewpoint": 58.8},
      {"series": "D1183", "hour": 67.07, "dewpoint": 59.75},
      {"series": "D1183", "hour": 67.48, "dewpoint": 60.3},
      {"series": "D1183", "hour": 67.78, "dewpoint": 59.8},
      {"series": "D1183", "hour": 68.03, "dewpoint": 59.75},
      {"series": "D1183", "hour": 68.32, "dewpoint": 59.4},
      {"series": "D1183", "hour": 68.53, "dewpoint": 60.0},
      {"series": "D1183", "hour": 68.82, "dewpoint": 60.3},
      {"series": "D1183", "hour": 69.03, "dewpoint": 59.2},
      {"series": "D1183", "hour": 69.37, "dewpoint": 58.8},
      {"series": "D1183", "hour": 69.7, "dewpoint": 59.4},
      {"series": "D1183", "hour": 70.0, "dewpoint": 58.8},
      {"series": "D1183", "hour": 70.29, "dewpoint": 59.2},
      {"series": "D1183", "hour": 70.62, "dewpoint": 58.6},
      {"series": "D1183", "hour": 70.95, "dewpoint": 57.9},
      {"series": "D1183", "hour": 71.16, "dewpoint": 58.25},
      {"series": "D1183", "hour": 71.45, "dewpoint": 57.5},
      {"series": "D1183", "hour": 71.79, "dewpoint": 57.4},
      {"series": "D1183", "hour": 72.0, "dewpoint": 57.1}
    ],
    "sun": [
      {"event": "Sunrise", "hour": 12.8},
      {"event": "Sunset", "hour": 23.25},
      {"event": "Sunrise", "hour": 36.92},
      {"event": "Sunset", "hour": 47.3},
      {"event": "Sunrise", "hour": 60.88},
      {"event": "Sunset", "hour": 71.33}
    ]
  },
  "resolve": {"scale": {"x": "shared", "y": "shared"}, "axis": {"x": "independent", "y": "independent"}},
  "layer": [
    {
      "data": {"name": "obs"},
      "transform": [{"filter": "datum.series === 'D1183 Analysis'"}],
      "mark": {"type": "line", "strokeWidth": 1, "clip": true},
      "encoding": {
        "x": {"field": "hour", "type": "quantitative", "scale": {"domain": [0, 72], "nice": false, "zero": false},
          "axis": {"orient": "bottom", "values": [0, 6, 12, 18, 24, 30, 36, 42, 48, 54, 60, 66, 72], "tickSize": -6, "labelPadding": 16, "labelBaseline": "top", "labelLineHeight": 15, "labelFlush": false, "labelOverlap": false, "title": null,
            "labelExpr": "['11/' + (21 + floor(datum.value / 24)), (datum.value % 24 < 10 ? '0' : '') + (datum.value % 24) + ':00']"}},
        "y": {"field": "dewpoint", "type": "quantitative", "scale": {"domain": [20, 65], "nice": false, "zero": false},
          "axis": {"orient": "left", "values": [20, 25, 30, 35, 40, 45, 50, 55, 60, 65], "tickSize": -6, "labelPadding": 13, "title": "degrees F", "titlePadding": 12, "labelFlush": false, "labelOverlap": false}},
        "color": {"field": "series", "type": "nominal", "scale": {"domain": ["D1183 Analysis", "D1183"], "range": ["#ff0000", "#0a84ff"]},
          "legend": {"orient": "none", "legendX": 499, "legendY": 5, "title": null, "padding": 0, "symbolType": "M -7.25 0 L 7.25 0", "symbolSize": 16, "symbolStrokeWidth": 1, "labelAlign": "right", "labelOffset": -26, "symbolOffset": 42, "labelFont": "DejaVu Sans Mono", "labelFontSize": 10, "labelColor": "black", "rowPadding": 3}}
      }
    },
    {
      "data": {"name": "obs"},
      "transform": [{"filter": "datum.series === 'D1183'"}],
      "mark": {"type": "line", "strokeWidth": 1, "clip": true},
      "encoding": {
        "x": {"field": "hour", "type": "quantitative", "axis": {"orient": "top", "values": [0, 6, 12, 18, 24, 30, 36, 42, 48, 54, 60, 66, 72], "tickSize": -6, "labels": false, "title": null}},
        "y": {"field": "dewpoint", "type": "quantitative", "axis": {"orient": "right", "values": [20, 25, 30, 35, 40, 45, 50, 55, 60, 65], "tickSize": -6, "labels": false, "title": null}},
        "color": {"field": "series", "type": "nominal"}
      }
    },
    {
      "data": {"name": "sun"},
      "mark": {"type": "rule", "color": "black", "strokeWidth": 1},
      "encoding": {
        "x": {"field": "hour", "type": "quantitative", "axis": {"orient": "bottom", "values": [3, 9, 15, 21, 27, 33, 39, 45, 51, 57, 63, 69], "tickSize": -3, "labels": false, "domain": false, "title": null}},
        "y": {"datum": 58.4, "type": "quantitative", "axis": null},
        "y2": {"datum": 20}
      }
    },
    {
      "data": {"name": "sun"},
      "mark": {"type": "text", "angle": 270, "align": "right", "baseline": "middle", "dx": -10, "font": "DejaVu Sans Mono", "fontSize": 10, "color": "black"},
      "encoding": {
        "x": {"field": "hour", "type": "quantitative", "axis": {"orient": "top", "values": [3, 9, 15, 21, 27, 33, 39, 45, 51, 57, 63, 69], "tickSize": -3, "labels": false, "domain": false, "title": null}},
        "y": {"datum": 65, "type": "quantitative", "axis": null},
        "text": {"field": "event"}
      }
    }
  ]
}
